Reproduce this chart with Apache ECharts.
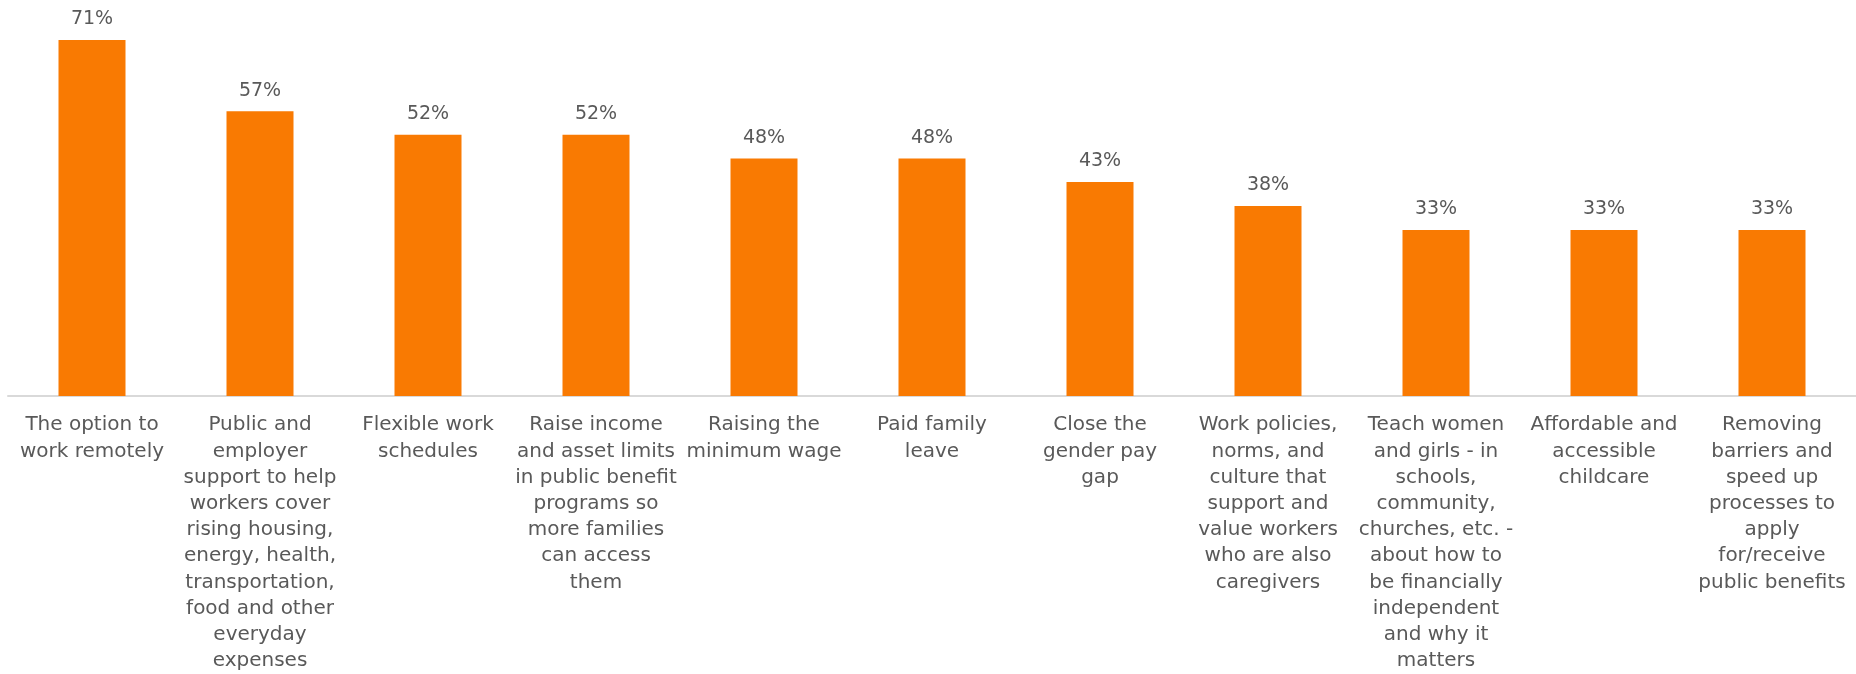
<!DOCTYPE html>
<html>
<head>
<meta charset="utf-8">
<script src="https://cdn.jsdelivr.net/npm/echarts@6/dist/echarts.min.js"></script>
<style>
html,body{margin:0;padding:0;background:#fff;}
#chart{width:1856px;height:674px;}
</style>
</head>
<body>
<div id="chart"></div>
<script>
const categories = [
  "The option to\nwork remotely",
  "Public and\nemployer\nsupport to help\nworkers cover\nrising housing,\nenergy, health,\ntransportation,\nfood and other\neveryday\nexpenses",
  "Flexible work\nschedules",
  "Raise income\nand asset limits\nin public benefit\nprograms so\nmore families\ncan access\nthem",
  "Raising the\nminimum wage",
  "Paid family\nleave",
  "Close the\ngender pay\ngap",
  "Work policies,\nnorms, and\nculture that\nsupport and\nvalue workers\nwho are also\ncaregivers",
  "Teach women\nand girls - in\nschools,\ncommunity,\nchurches, etc. -\nabout how to\nbe financially\nindependent\nand why it\nmatters",
  "Affordable and\naccessible\nchildcare",
  "Removing\nbarriers and\nspeed up\nprocesses to\napply\nfor/receive\npublic benefits"
];
const values = [71.4, 57.1, 52.4, 52.4, 47.6, 47.6, 42.9, 38.1, 33.3, 33.3, 33.3];

const chart = echarts.init(document.getElementById('chart'), null, {renderer: 'canvas'});
chart.setOption({
  animation: false,
  backgroundColor: '#ffffff',
  grid: {left: 8, right: 0, top: 7, bottom: 274, containLabel: false},
  xAxis: {
    type: 'category',
    data: categories,
    axisLine: {show: true, lineStyle: {color: '#D9D9D9', width: 2}},
    axisTick: {show: false},
    axisLabel: {
      interval: 0,
      margin: 16,
      color: '#595959',
      fontFamily: 'DejaVu Sans',
      fontSize: 20,
      lineHeight: 26.2,
      align: 'center',
      verticalAlign: 'top'
    }
  },
  yAxis: {
    type: 'value',
    min: 0,
    max: 78,
    show: false,
    splitLine: {show: false}
  },
  series: [{
    type: 'bar',
    data: values,
    barWidth: 67,
    itemStyle: {color: '#F97A02'},
    label: {
      show: true,
      position: 'top',
      distance: 11,
      formatter: function (p) { return Math.round(p.value) + '%'; },
      color: '#595959',
      fontFamily: 'DejaVu Sans',
      fontSize: 19
    }
  }]
});
</script>
</body>
</html>
